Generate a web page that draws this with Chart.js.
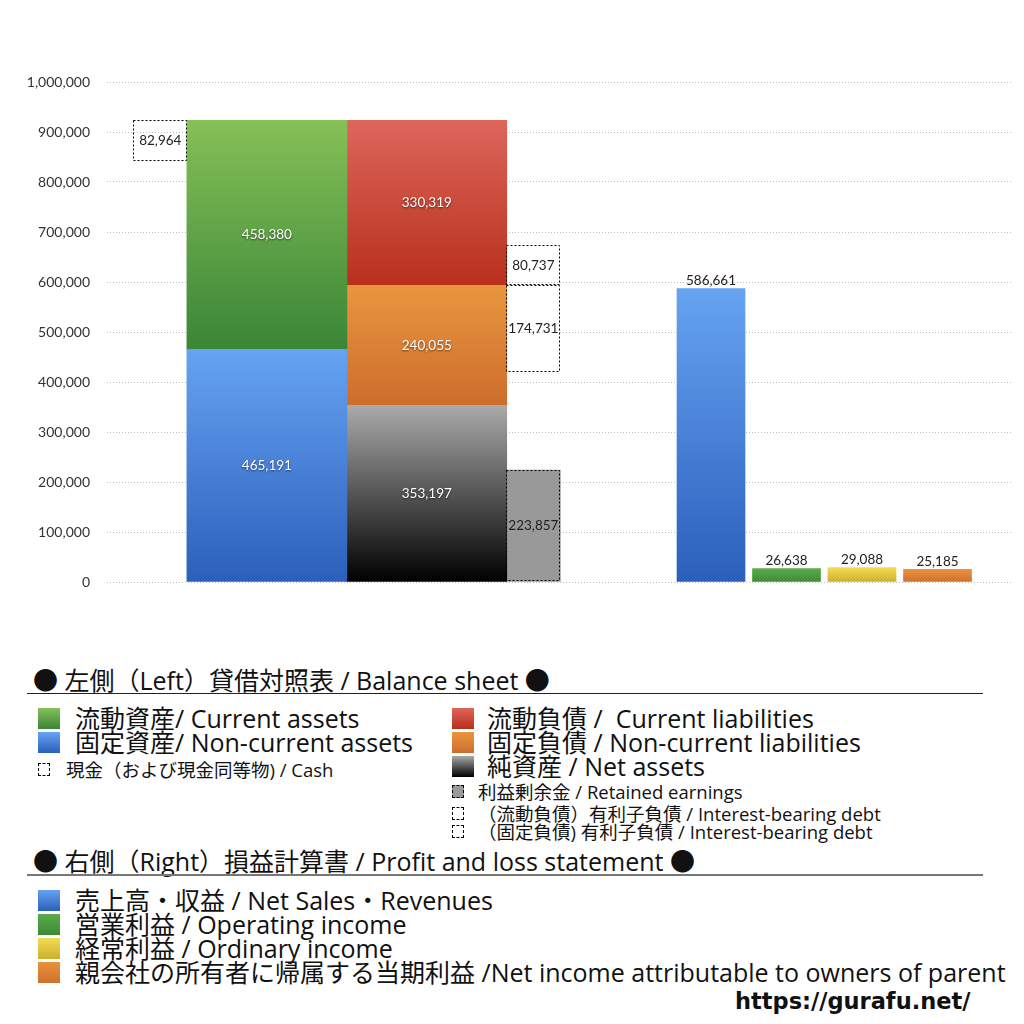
<!DOCTYPE html>
<html>
<head>
<meta charset="utf-8">
<script src="https://cdn.jsdelivr.net/npm/chart.js@4.4.1/dist/chart.umd.min.js"></script>
<style>
  body { margin: 0; background: #fff; font-family: "Open Sans", "Noto Sans CJK JP", sans-serif; color: #111; }
  #wrap { position: absolute; left: 0; top: 0; width: 1024px; height: 620px; }
  .t { position: absolute; white-space: nowrap; }
  .big { font-size: 25px; line-height: 26px; }
  .small { font-size: 18.5px; line-height: 18px; }
  .sw { position: absolute; width: 22px; height: 21px; }
  .sm { position: absolute; width: 12px; height: 13px; border: 1px dashed #000; box-sizing: border-box; }
  .rule { position: absolute; left: 27px; width: 956px; }
</style>
</head>
<body>
<div id="wrap"><canvas id="bs-chart"></canvas></div>

<div class="t big" style="left:33px; top:667px;">● 左側（Left）貸借対照表 / Balance sheet ●</div>
<div class="rule" style="top:693px; height:1px; background:#222;"></div>

<div class="sw" style="left:38px; top:708px; background:linear-gradient(#86c057,#3a8537);"></div>
<div class="t big" style="left:75px; top:705px;">流動資産/ Current assets</div>
<div class="sw" style="left:38px; top:732px; background:linear-gradient(#66a3f2,#2b5fbb);"></div>
<div class="t big" style="left:75px; top:729px;">固定資産/ Non-current assets</div>
<div class="sm" style="left:38px; top:763px;"></div>
<div class="t small" style="left:66px; top:761px;">現金（および現金同等物) / Cash</div>

<div class="sw" style="left:452px; top:708px; background:linear-gradient(#dd665b,#b8301c);"></div>
<div class="t big" style="left:487px; top:705px;">流動負債 /&nbsp; Current liabilities</div>
<div class="sw" style="left:452px; top:732px; background:linear-gradient(#e9963f,#cd6d2d);"></div>
<div class="t big" style="left:487px; top:729px;">固定負債 / Non-current liabilities</div>
<div class="sw" style="left:452px; top:756px; background:linear-gradient(#aaaaaa,#000000);"></div>
<div class="t big" style="left:487px; top:753px;">純資産 / Net assets</div>
<div class="sm" style="left:452px; top:785px; background:#999;"></div>
<div class="t small" style="left:478px; top:783px;">利益剰余金 / Retained earnings</div>
<div class="sm" style="left:452px; top:807px;"></div>
<div class="t small" style="left:478px; top:805px;">（流動負債）有利子負債 / Interest-bearing debt</div>
<div class="sm" style="left:452px; top:825px;"></div>
<div class="t small" style="left:478px; top:823px;">（固定負債) 有利子負債 / Interest-bearing debt</div>

<div class="t big" style="left:33px; top:848px;">● 右側（Right）損益計算書 / Profit and loss statement ●</div>
<div class="rule" style="top:874px; height:2px; background:#777;"></div>

<div class="sw" style="left:38px; top:890px; background:linear-gradient(#66a3f2,#2b5fbb);"></div>
<div class="t big" style="left:75px; top:887px;">売上高・収益 / Net Sales・Revenues</div>
<div class="sw" style="left:38px; top:914px; background:linear-gradient(#5bab4a,#3d8a36);"></div>
<div class="t big" style="left:75px; top:911px;">営業利益 / Operating income</div>
<div class="sw" style="left:38px; top:938px; background:linear-gradient(#f2dc55,#cdb02c);"></div>
<div class="t big" style="left:75px; top:935px;">経常利益 / Ordinary income</div>
<div class="sw" style="left:38px; top:962px; background:linear-gradient(#e8923c,#d0712d);"></div>
<div class="t big" style="left:75px; top:959px;">親会社の所有者に帰属する当期利益 /Net income attributable to owners of parent</div>

<div class="t big" style="left:735px; top:988px; font-family:'DejaVu Sans', sans-serif; font-weight:bold; font-size:22.5px;">https://gurafu.net/</div>

<script>
// balance sheet (left side)
const assets = [465191, 458380];              // 固定資産, 流動資産
const liabilities = [353197, 240055, 330319]; // 純資産, 固定負債, 流動負債
const cash = 82964;
const retainedEarnings = 223857;
const interestDebt = [174731, 80737];          // 固定負債の有利子負債, 流動負債の有利子負債

// profit and loss (right side)
const plCategories = ['売上高', '営業利益', '経常利益', '当期利益'];
const plValues = [586661, 26638, 29088, 25185];

const yTicks = { min: 0, max: 1000000, step: 100000 };

// hidden category axes, blanks are spacers
const bsLabels = ['', '現金', '', '資産', '', '', '負債・純資産', '', '剰余金・有利子負債', '', '', '', '', '', '', '', '', ''];
const plLabels = ['', '', '', '', '', '', '', '', ...plCategories, ''];

const totalAssets = assets[0] + assets[1];
const nonCurrentTop = liabilities[0] + liabilities[1];

const gradient = (top, bottom) => (ctx) => {
    const chart = ctx.chart;
    const raw = ctx.raw;
    if (!raw || !chart.chartArea) return bottom;
    const r = Array.isArray(raw.y) ? raw.y : [0, raw.y];
    const y = chart.scales.y;
    const g = chart.ctx.createLinearGradient(0, y.getPixelForValue(r[1]), 0, y.getPixelForValue(r[0]));
    g.addColorStop(0, top);
    g.addColorStop(1, bottom);
    return g;
};

const plColors = [
    ['#66a3f2', '#2b5fbb'],
    ['#5bab4a', '#3d8a36'],
    ['#f2dc55', '#cdb02c'],
    ['#e8923c', '#d0712d']
];

const datasets = [{
    label: '固定資産',
    xAxisID: 'xL',
    data: [{ x: '資産', y: [0, assets[0]] }],
    backgroundColor: gradient('#66a3f2', '#2b5fbb'),
    barThickness: 160,
    labelColor: 'white'
}, {
    label: '流動資産',
    xAxisID: 'xL',
    data: [{ x: '資産', y: [assets[0], totalAssets] }],
    backgroundColor: gradient('#86c057', '#3a8537'),
    barThickness: 160,
    labelColor: 'white'
}, {
    label: '現金',
    xAxisID: 'xL',
    data: [{ x: '現金', y: [totalAssets - cash, totalAssets] }],
    backgroundColor: 'rgba(255,255,255,0)',
    barThickness: 54,
    dashed: true
}, {
    label: '純資産',
    xAxisID: 'xL',
    data: [{ x: '負債・純資産', y: [0, liabilities[0]] }],
    backgroundColor: gradient('#aaaaaa', '#000000'),
    barThickness: 160,
    labelColor: 'white'
}, {
    label: '固定負債',
    xAxisID: 'xL',
    data: [{ x: '負債・純資産', y: [liabilities[0], nonCurrentTop] }],
    backgroundColor: gradient('#e9963f', '#cd6d2d'),
    barThickness: 160,
    labelColor: 'white'
}, {
    label: '流動負債',
    xAxisID: 'xL',
    data: [{ x: '負債・純資産', y: [nonCurrentTop, nonCurrentTop + liabilities[2]] }],
    backgroundColor: gradient('#dd665b', '#b8301c'),
    barThickness: 160,
    labelColor: 'white'
}, {
    label: '利益剰余金',
    xAxisID: 'xL',
    data: [{ x: '剰余金・有利子負債', y: [0, retainedEarnings] }],
    backgroundColor: '#999999',
    barThickness: 54,
    dashed: true
}, {
    label: '有利子負債(固定)',
    xAxisID: 'xL',
    data: [{ x: '剰余金・有利子負債', y: [nonCurrentTop - interestDebt[0], nonCurrentTop] }],
    backgroundColor: 'rgba(255,255,255,0)',
    barThickness: 54,
    dashed: true
}, {
    label: '有利子負債(流動)',
    xAxisID: 'xL',
    data: [{ x: '剰余金・有利子負債', y: [nonCurrentTop, nonCurrentTop + interestDebt[1]] }],
    backgroundColor: 'rgba(255,255,255,0)',
    barThickness: 54,
    dashed: true
}, {
    label: '損益計算書',
    xAxisID: 'xR',
    data: plCategories.map((c, i) => ({ x: c, y: plValues[i] })),
    backgroundColor: (ctx) => gradient(...plColors[ctx.dataIndex] || plColors[0])(ctx),
    barThickness: 68,
    labelTop: true
}];

// value labels and dashed outlines
const barLabels = {
    id: 'barLabels',
    afterDatasetsDraw(chart) {
        const c = chart.ctx;
        chart.data.datasets.forEach((ds, i) => {
            const meta = chart.getDatasetMeta(i);
            meta.data.forEach((bar, j) => {
                const raw = ds.data[j];
                const r = Array.isArray(raw.y) ? raw.y : [0, raw.y];
                const text = (r[1] - r[0]).toLocaleString('en-US');
                const top = Math.min(bar.y, bar.base);
                const h = Math.abs(bar.base - bar.y);
                c.save();
                if (ds.dashed) {
                    c.setLineDash([2, 2]);
                    c.strokeStyle = '#000';
                    c.lineWidth = 1;
                    c.strokeRect(Math.round(bar.x - bar.width / 2) + 0.5, Math.round(top) + 0.5, Math.round(bar.width) - 1, Math.round(h) - 1);
                    c.setLineDash([]);
                }
                c.font = '13.5px Lato';
                c.textAlign = 'center';
                if (ds.labelTop) {
                    c.fillStyle = '#222';
                    c.textBaseline = 'bottom';
                    c.fillText(text, bar.x, top - 1);
                } else {
                    c.textBaseline = 'middle';
                    if (ds.labelColor === 'white') {
                        c.fillStyle = '#fff';
                        c.shadowColor = 'rgba(0,0,0,0.6)';
                        c.shadowBlur = 2;
                        c.shadowOffsetY = 1;
                    } else {
                        c.fillStyle = '#222';
                    }
                    c.fillText(text, bar.x, top + h / 2);
                }
                c.restore();
            });
        });
    }
};

new Chart(document.getElementById('bs-chart'), {
    type: 'bar',
    data: { datasets: datasets },
    plugins: [barLabels],
    options: {
        responsive: true,
        maintainAspectRatio: false,
        animation: false,
        layout: { padding: { left: 0, right: 11, top: 82, bottom: 38 } },
        datasets: { bar: { grouped: false } },
        plugins: {
            legend: { display: false },
            tooltip: { enabled: false }
        },
        scales: {
            xL: { type: 'category', labels: bsLabels, offset: false, display: false },
            xR: { type: 'category', labels: plLabels, offset: false, display: false },
            y: {
                stacked: false,
                min: yTicks.min,
                max: yTicks.max,
                afterFit: (scale) => { scale.width = 107; },
                border: { display: false, dash: [1, 2] },
                grid: { color: '#bdbdbd', drawTicks: false },
                ticks: {
                    stepSize: yTicks.step,
                    padding: 17,
                    color: '#333',
                    font: { family: 'Lato', size: 14 },
                    callback: (v) => v.toLocaleString('en-US')
                }
            }
        }
    }
});
</script>
</body>
</html>
